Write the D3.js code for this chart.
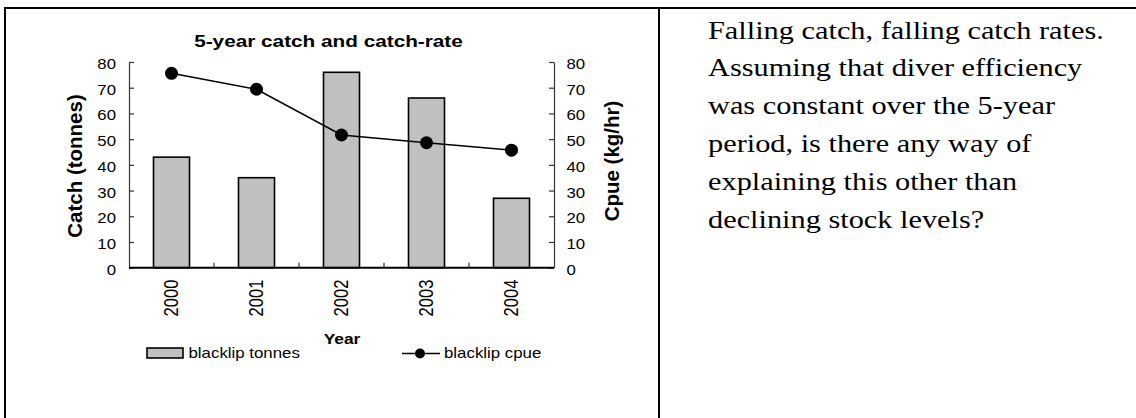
<!DOCTYPE html>
<html><head><meta charset="utf-8">
<script src="https://cdn.jsdelivr.net/npm/d3@7"></script>
<style>body{margin:0;background:#fff;}svg{display:block;}</style>
</head><body>
<script>
const years = ["2000","2001","2002","2003","2004"];
const tonnes = [43, 35, 76, 66, 27];
const cpue = [75.6, 69.4, 51.6, 48.6, 45.7];
const yTicks = [0,10,20,30,40,50,60,70,80];
const noteLines = [
  "Falling catch, falling catch rates.",
  "Assuming that diver efficiency",
  "was constant over the 5-year",
  "period, is there any way of",
  "explaining this other than",
  "declining stock levels?"
];

(function(){
const W = 1136, H = 418;
const SX = 1.2; // horizontal stretch of the reference picture
const svg = d3.select("body").append("svg").attr("width", W).attr("height", H);

// table borders
svg.append("line").attr("x1",4).attr("x2",W).attr("y1",8).attr("y2",8).attr("stroke","#000").attr("stroke-width",2);
svg.append("line").attr("x1",5).attr("x2",5).attr("y1",7).attr("y2",H).attr("stroke","#000").attr("stroke-width",2);
svg.append("line").attr("x1",659).attr("x2",659).attr("y1",7).attr("y2",H).attr("stroke","#000").attr("stroke-width",2);

const pL = 129, pR = 554, pT = 62, pB = 267.7;
const xb = d3.scaleBand().domain(years).range([pL, pR]);
const yL = d3.scaleLinear().domain([0,80]).range([pB, pT]);
const yR = d3.scaleLinear().domain([0,80]).range([pB, pT]);
const cx = d => xb(d) + xb.bandwidth()/2;

const font = "'Liberation Sans', Arial, sans-serif";

function htext(g, x, y, str, size, opts={}) {
  const sx = opts.sx || SX;
  return g.append("text")
    .attr("transform", `translate(${x},${y}) scale(${sx},1)`)
    .attr("text-anchor", opts.anchor || "start")
    .attr("font-family", opts.family || font)
    .attr("font-weight", opts.bold ? "bold" : "normal")
    .attr("font-size", size).attr("fill", "#000")
    .text(str);
}

// bars
svg.append("g").selectAll("rect").data(years).join("rect")
  .attr("x", d => cx(d) - 18)
  .attr("width", 36)
  .attr("y", (d,i) => yL(tonnes[i]))
  .attr("height", (d,i) => pB - yL(tonnes[i]))
  .attr("fill", "#c0c0c0").attr("stroke", "#000").attr("stroke-width", 1.6);

// left axis
const gl = svg.append("g").attr("transform", `translate(${pL},0)`)
  .call(d3.axisLeft(yL).tickValues(yTicks).tickSizeOuter(0));
// right axis
const gr = svg.append("g").attr("transform", `translate(${pR},0)`)
  .call(d3.axisRight(yR).tickValues(yTicks).tickSizeOuter(0));
[gl, gr].forEach(g => {
  g.select(".domain").attr("stroke","#333").attr("stroke-width",1.2);
  g.selectAll(".tick line").attr("stroke","#333").attr("stroke-width",1.2);
  g.selectAll(".tick text").attr("font-family", font).attr("font-size", 15).attr("fill","#000")
    .attr("x", null).attr("dy", null);
});
gl.selectAll(".tick line").attr("x2", 5);
gr.selectAll(".tick line").attr("x2", -5);
gl.selectAll(".tick text").attr("text-anchor","end").attr("transform", `translate(-13,6.5) scale(1.12,1)`);
gr.selectAll(".tick text").attr("text-anchor","start").attr("transform", `translate(12.5,6.5) scale(1.12,1)`);

// bottom axis
const gb = svg.append("g").attr("transform", `translate(0,${pB})`);
gb.append("line").attr("x1", pL).attr("x2", pR).attr("stroke","#000").attr("stroke-width",2);
gb.selectAll("line.t").data(years.slice(1)).join("line").attr("class","t")
  .attr("x1", d => xb(d)).attr("x2", d => xb(d)).attr("y1", 0).attr("y2", -5).attr("stroke","#333").attr("stroke-width",1.2);
gb.selectAll("text").data(years).join("text")
  .attr("transform", d => `translate(${cx(d) + 6.5},${12}) scale(${SX},1) rotate(-90)`)
  .attr("text-anchor","end").attr("font-family", font).attr("font-size", 16.5).text(d => d);

// line
svg.append("path").datum(years)
  .attr("d", d3.line().x(d => cx(d)).y((d,i) => yR(cpue[i])))
  .attr("fill","none").attr("stroke","#000").attr("stroke-width",1.5);
svg.append("g").selectAll("circle").data(years).join("circle")
  .attr("cx", d => cx(d)).attr("cy", (d,i) => yR(cpue[i])).attr("r", 6.5).attr("fill","#000");

// titles
htext(svg, 328.5, 47, "5-year catch and catch-rate", 17.3, {anchor:"middle", bold:true});
svg.append("text").attr("transform", `translate(82,166) rotate(-90)`).attr("text-anchor","middle")
  .attr("font-family", font).attr("font-weight","bold").attr("font-size", 20.5)
  .text("Catch (tonnes)");
svg.append("text").attr("transform", `translate(619,161) rotate(-90)`).attr("text-anchor","middle")
  .attr("font-family", font).attr("font-weight","bold").attr("font-size", 20.5)
  .text("Cpue (kg/hr)");
htext(svg, 342, 343.5, "Year", 14.5, {anchor:"middle", bold:true});

// legend
const lg = svg.append("g");
lg.append("rect").attr("x",147).attr("y",348).attr("width",36).attr("height",10)
  .attr("fill","#c0c0c0").attr("stroke","#000").attr("stroke-width",1.6);
htext(lg, 188.5, 358, "blacklip tonnes", 14.4, {sx:1.17});
lg.append("line").attr("x1",402).attr("x2",440).attr("y1",353.5).attr("y2",353.5).attr("stroke","#000").attr("stroke-width",1.5);
lg.append("circle").attr("cx",420).attr("cy",353.5).attr("r",5).attr("fill","#000");
htext(lg, 444, 358, "blacklip cpue", 14.4, {sx:1.17});

// note text
const ng = svg.append("g");
noteLines.forEach((t,i) => htext(ng, 708, 38.5 + i*37.8, t, 25.5, {sx:1.19, family:"'Liberation Serif', 'Times New Roman', serif"}));
})();
</script>
</body></html>
